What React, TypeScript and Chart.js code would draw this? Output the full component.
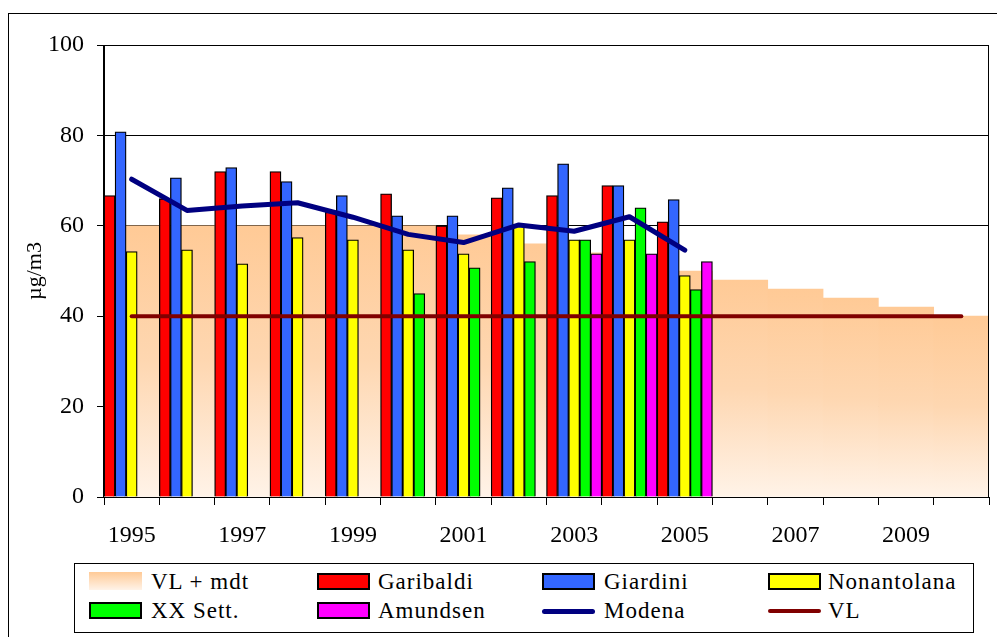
import React, { useEffect, useRef } from 'react';
import { Chart, registerables } from 'chart.js';

Chart.register(...registerables);

const years = ['1995', '1996', '1997', '1998', '1999', '2000', '2001', '2002', '2003', '2004', '2005', '2006', '2007', '2008', '2009', '2010'];
const yTicks = [0, 20, 40, 60, 80, 100];

const vlMdt = [60, 60, 60, 60, 60, 60, 58, 56, 54, 52, 50, 48, 46, 44, 42, 40];
const garibaldi = [66.7, 66, 72, 72, 63, 67.1, 60, 66.2, 66.7, 68.9, 60.9, null, null, null, null, null];
const giardini = [80.8, 70.6, 72.9, 69.8, 66.7, 62.2, 62.2, 68.4, 73.7, 68.9, 65.8, null, null, null, null, null];
const nonantolana = [54.3, 54.7, 51.6, 57.4, 56.9, 54.7, 53.8, 60, 56.9, 56.9, 49, null, null, null, null, null];
const xxSett = [null, null, null, null, null, 45, 50.7, 52.1, 56.9, 64, 45.9, null, null, null, null, null];
const amundsen = [null, null, null, null, null, null, null, null, 53.8, 53.8, 52.1, null, null, null, null, null];
const modena = [70.3, 63.4, 64.4, 65.1, 61.9, 58.1, 56.3, 60.2, 58.8, 62, 54.6, null, null, null, null, null];
const vl = [40, 40, 40, 40, 40, 40, 40, 40, 40, 40, 40, 40, 40, 40, 40, 40];

const FONT = "'Liberation Serif', 'Times New Roman', serif";

const plotBorder = {
  id: 'plotBorder',
  afterDatasetsDraw(chart: any) {
    const { ctx, chartArea: a } = chart;
    ctx.save();
    ctx.strokeStyle = '#000';
    ctx.lineWidth = 1;
    const l = Math.round(a.left) - 0.5;
    const r = Math.round(a.right) - 0.5;
    const b = Math.round(a.bottom) + 0.5;
    ctx.beginPath();
    ctx.moveTo(l, a.top);
    ctx.lineTo(l, b);
    ctx.lineTo(r, b);
    ctx.lineTo(r, a.top);
    ctx.stroke();
    ctx.restore();
  },
};

function areaFill(c: any) {
  const chart = c.chart;
  const scales = chart.scales;
  if (!chart.chartArea || c.raw == null || !scales || !scales.y) return '#FFCC99';
  const y0 = scales.y.getPixelForValue(0);
  const y1 = scales.y.getPixelForValue(c.raw);
  const g = chart.ctx.createLinearGradient(0, y1, 0, y0);
  g.addColorStop(0, '#FFCA96');
  g.addColorStop(0.5, '#FED7B1');
  g.addColorStop(1, '#FFF3E8');
  return g;
}

const legendItems = [
  { label: 'VL + mdt', kind: 'area', color: '' },
  { label: 'Garibaldi', kind: 'bar', color: '#FF0000' },
  { label: 'Giardini', kind: 'bar', color: '#3366FF' },
  { label: 'Nonantolana', kind: 'bar', color: '#FFFF00' },
  { label: 'XX Sett.', kind: 'bar', color: '#00FF00' },
  { label: 'Amundsen', kind: 'bar', color: '#FF00FF' },
  { label: 'Modena', kind: 'line', color: '#000080' },
  { label: 'VL', kind: 'line', color: '#800000' },
];

const colSwatchX = [89, 317, 542, 768];
const colTextX = [151, 378, 604, 828];
const rowY = [582, 611];

export default function App() {
  const ref = useRef<HTMLCanvasElement | null>(null);

  useEffect(() => {
    if (!ref.current) return;
    const barBase = {
      type: 'bar' as const,
      borderColor: '#000',
      borderWidth: 1.3,
      barPercentage: 1,
      categoryPercentage: 1,
      order: 5,
    };
    const chart = new Chart(ref.current, {
      type: 'bar',
      data: {
        labels: years,
        datasets: [
          {
            type: 'bar',
            label: 'VL + mdt',
            data: vlMdt,
            grouped: false,
            barPercentage: 1,
            categoryPercentage: 1,
            borderWidth: 0,
            backgroundColor: areaFill,
            order: 10,
          } as any,
          { ...barBase, label: 'Garibaldi', data: garibaldi, backgroundColor: '#FF0000' },
          { ...barBase, label: 'Giardini', data: giardini, backgroundColor: '#3366FF' },
          { ...barBase, label: 'Nonantolana', data: nonantolana, backgroundColor: '#FFFF00' },
          { ...barBase, label: 'XX Sett.', data: xxSett, backgroundColor: '#00FF00' },
          { ...barBase, label: 'Amundsen', data: amundsen, backgroundColor: '#FF00FF' },
          {
            type: 'line',
            label: 'Modena',
            data: modena,
            borderColor: '#000080',
            backgroundColor: '#000080',
            borderWidth: 5,
            pointRadius: 0,
            tension: 0,
            borderCapStyle: 'round',
            borderJoinStyle: 'round',
            order: 0,
          } as any,
          {
            type: 'line',
            label: 'VL',
            data: vl,
            borderColor: '#800000',
            backgroundColor: '#800000',
            borderWidth: 4,
            pointRadius: 0,
            tension: 0,
            borderCapStyle: 'round',
            order: 1,
          } as any,
        ],
      },
      options: {
        animation: false,
        responsive: true,
        maintainAspectRatio: false,
        layout: { padding: { left: 10, top: 45, right: 8, bottom: 0 } },
        plugins: {
          legend: { display: false },
          tooltip: { enabled: false },
        },
        scales: {
          x: {
            type: 'category',
            offset: true,
            afterFit: (s: any) => { s.height = 63; },
            grid: {
              offset: true,
              drawOnChartArea: false,
              drawTicks: true,
              tickLength: 8,
              color: '#000',
              lineWidth: 1,
            },
            border: { display: true, color: '#000', width: 1 },
            ticks: {
              autoSkip: false,
              maxRotation: 0,
              minRotation: 0,
              padding: 16,
              color: '#000',
              font: { family: FONT, size: 24 },
              callback: (_v: any, i: number) => (i % 2 === 0 ? years[i] : ''),
            },
          },
          y: {
            min: 0,
            max: 100,
            afterFit: (s: any) => { s.width = 94; },
            afterBuildTicks: (s: any) => { s.ticks = yTicks.map((v) => ({ value: v })); },
            grid: {
              color: '#000',
              lineWidth: 1,
              drawTicks: true,
              tickLength: 7,
            },
            border: { display: true, color: '#000', width: 1 },
            ticks: {
              padding: 13,
              color: '#000',
              font: { family: FONT, size: 24 },
            },
            title: {
              display: true,
              text: 'µg/m3',
              color: '#000',
              font: { family: FONT, size: 22 },
              padding: { top: 12, bottom: 0 },
            },
          },
        },
      },
      plugins: [plotBorder],
    } as any);
    return () => chart.destroy();
  }, []);

  return (
    <div style={{ position: 'fixed', left: 0, top: 0, width: 997, height: 637, overflow: 'hidden', background: '#fff' }}>
      <div
        style={{
          position: 'absolute',
          left: 8,
          top: 13,
          width: 1000,
          height: 700,
          borderTop: '1px solid #000',
          borderLeft: '1px solid #000',
        }}
      />
      <div style={{ position: 'absolute', left: 0, top: 0, width: 997, height: 560 }}>
        <canvas ref={ref} />
      </div>
      <div
        style={{
          position: 'absolute',
          left: 74,
          top: 563,
          width: 900,
          height: 70,
          border: '1px solid #000',
          boxSizing: 'border-box',
          background: '#fff',
        }}
      />
      {legendItems.map((it, i) => {
        const col = i % 4;
        const row = Math.floor(i / 4);
        const cy = rowY[row];
        let swatch: React.ReactNode;
        if (it.kind === 'area') {
          swatch = (
            <div
              style={{
                position: 'absolute',
                left: colSwatchX[col],
                top: cy - 10,
                width: 53,
                height: 18,
                background: 'linear-gradient(#FFCA96, #FFF3E8)',
              }}
            />
          );
        } else if (it.kind === 'bar') {
          swatch = (
            <div
              style={{
                position: 'absolute',
                left: colSwatchX[col],
                top: cy - 9,
                width: 53,
                height: 17,
                boxSizing: 'border-box',
                border: '2px solid #000',
                background: it.color,
              }}
            />
          );
        } else {
          swatch = (
            <div
              style={{
                position: 'absolute',
                left: colSwatchX[col],
                top: cy - (it.label === 'Modena' ? 2.5 : 2),
                width: 53,
                height: it.label === 'Modena' ? 5 : 4,
                borderRadius: 3,
                background: it.color,
              }}
            />
          );
        }
        return (
          <React.Fragment key={it.label}>
            {swatch}
            <div
              style={{
                position: 'absolute',
                left: colTextX[col],
                top: cy - 13,
                height: 26,
                lineHeight: '26px',
                fontFamily: FONT,
                fontSize: 23,
                letterSpacing: '1px',
                color: '#000',
                whiteSpace: 'nowrap',
              }}
            >
              {it.label}
            </div>
          </React.Fragment>
        );
      })}
    </div>
  );
}
